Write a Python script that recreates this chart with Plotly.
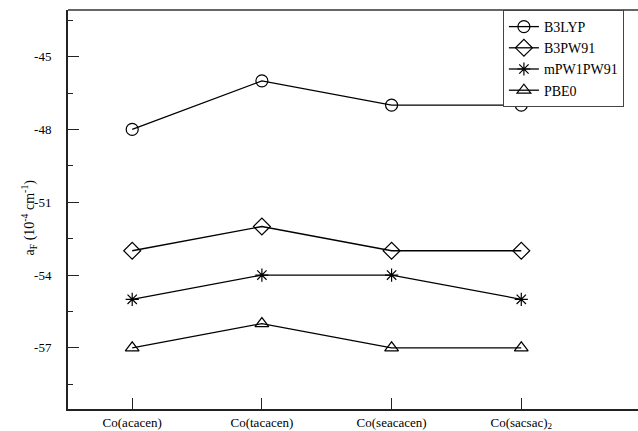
import plotly.graph_objects as go

# Fermi contact hyperfine coupling for the Co complexes, per functional
complexes = ["Co(acacen)", "Co(tacacen)", "Co(seacacen)", "Co(sacsac)<sub>2</sub>"]
b3lyp = [-48, -46, -47, -47]
b3pw91 = [-53, -52, -53, -53]
mpw1pw91 = [-55, -54, -54, -55]
pbe0 = [-57, -56, -57, -57]

y_major = [-57, -54, -51, -48, -45]
y_major_text = ["-57", "-54", "-51", "-48", "-45"]
y_minor = [-58.5, -55.5, -52.5, -49.5, -46.5, -43.5]

series = [
    ("B3LYP", b3lyp, "circle-open", 12),
    ("B3PW91", b3pw91, "diamond-open", 13),
    ("mPW1PW91", mpw1pw91, "asterisk-open", 11),
    ("PBE0", pbe0, "triangle-up-open", 12),
]

xpos = list(range(1, len(complexes) + 1))

fig = go.Figure()
for name, vals, sym, size in series:
    fig.add_trace(go.Scatter(
        x=xpos, y=vals, name=name, mode="lines+markers",
        line=dict(color="black", width=1.3),
        marker=dict(symbol=sym, size=size, color="black",
                    line=dict(color="black", width=1.2)),
    ))

font = "Liberation Serif"

fig.update_layout(
    width=638, height=431,
    margin=dict(l=68, r=0, t=10, b=20),
    paper_bgcolor="white", plot_bgcolor="white",
    font=dict(family=font, size=13, color="black"),
    showlegend=True,
    legend=dict(
        x=0.763, y=1.0, xanchor="left", yanchor="top",
        bgcolor="white", bordercolor="#444", borderwidth=1,
        font=dict(family=font, size=14, color="black"),
        tracegroupgap=0, itemwidth=30,
    ),
    xaxis=dict(
        range=[0.505, 4.9], tickmode="array", tickvals=xpos, ticktext=complexes,
        ticks="inside", ticklen=11, tickwidth=1.2, tickcolor="#222",
        showline=True, linewidth=2, linecolor="#222", mirror=False,
        showgrid=False, zeroline=False,
        tickfont=dict(family=font, size=13, color="black"),
    ),
    yaxis=dict(
        range=[-59.52, -43.08], tickmode="array", tickvals=y_major, ticktext=y_major_text,
        ticks="inside", ticklen=11, tickwidth=1.2, tickcolor="#222",
        ticklabelstandoff=12,
        minor=dict(tickmode="array", tickvals=y_minor,
                   ticks="inside", ticklen=5, tickwidth=1.2, tickcolor="#222"),
        showline=True, linewidth=2, linecolor="#222",
        showgrid=False, zeroline=False,
        tickfont=dict(family=font, size=13, color="black"),
    ),
    annotations=[dict(
        text="a<sub>F</sub> (10<sup>-4</sup> cm<sup>-1</sup>)",
        xref="paper", yref="paper", x=0, y=0.5, xanchor="center", yanchor="middle",
        xshift=-39, yshift=-8, textangle=-90, showarrow=False,
        font=dict(family=font, size=14, color="black"),
    )],
    shapes=[dict(type="line", xref="paper", yref="paper", x0=0, x1=1, y0=1, y1=1,
                 line=dict(color="#666", width=2))],
)

fig.write_html("out.html")
